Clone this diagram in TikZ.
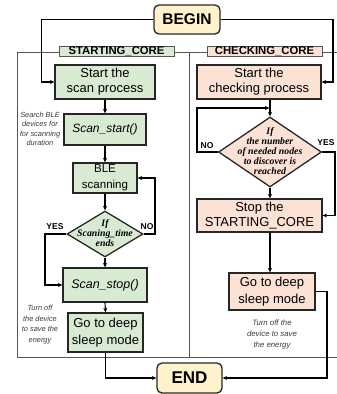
\documentclass[tikz,border=0pt]{standalone}
\usepackage{fontspec}
\setmainfont{Liberation Sans}
\newfontfamily\dfont{Liberation Serif}
\usetikzlibrary{shapes.geometric,arrows.meta}
\definecolor{gfill}{HTML}{D9EAD3}
\definecolor{pfill}{HTML}{FBE2D5}
\definecolor{yfill}{HTML}{FFF2CC}
\definecolor{framec}{HTML}{555555}
\definecolor{notec}{HTML}{3A3A3A}
\begin{document}
\begin{tikzpicture}[x=1pt,y=-1pt,
  box/.style={draw=black!85, line width=1.3pt, inner sep=0pt, align=center, font=\fontsize{13}{15}\selectfont},
  gbox/.style={box, fill=gfill},
  pbox/.style={box, fill=pfill},
  term/.style={draw=black!85, line width=1.3pt, rounded corners=5pt, fill=yfill, font=\bfseries\fontsize{15.5}{18}\selectfont, inner sep=0pt},
  dia/.style={draw=black!85, line width=1.3pt, diamond, inner sep=0pt},
  dtext/.style={font=\dfont\bfseries\itshape\fontsize{9.8}{10}\selectfont, align=center, inner sep=0pt},
  conn/.style={line width=1.1pt, -{Stealth[length=4.5pt,width=4pt]}},
  frame/.style={draw=framec, line width=0.9pt},
  tag/.style={draw=framec, line width=0.7pt, font=\bfseries\fontsize{11.3}{12}\selectfont, inner sep=0pt, minimum height=10pt, minimum width=115pt},
  note/.style={font=\itshape\fontsize{7.4}{9.3}\selectfont, text=notec, align=center, inner sep=0pt},
  yn/.style={font=\bfseries\fontsize{8.5}{10}\selectfont, inner sep=0pt}
]
\useasboundingbox (0,0) rectangle (337,394);
% frame
\draw[frame] (17,52) -- (17,357) -- (337,357);
\draw[frame] (189,52) -- (189,357);
\draw[frame] (17,52) -- (337,52);
\node[tag, fill=gfill] (tagS) at (116.5,51.5) {STARTING\_CORE};
\node[tag, fill=pfill] (tagC) at (264.5,51.5) {CHECKING\_CORE};
% terminals
\node[term, minimum width=66pt, minimum height=29pt] (begin) at (187,19.5) {BEGIN};
\node[term, minimum width=65pt, minimum height=30pt, font=\bfseries\fontsize{17}{19}\selectfont] (end) at (189.5,378) {END};
% left column
\node[gbox, minimum width=100pt, minimum height=34pt] (s1) at (105,82) {Start the\\scan process};
\node[gbox, minimum width=82pt, minimum height=31pt, font=\itshape\fontsize{12}{14}\selectfont] (s2) at (105,129.5) {Scan\_start()};
\node[gbox, minimum width=64pt, minimum height=30pt, font=\fontsize{11.5}{16}\selectfont] (s3) at (105,178) {BLE\\scanning};
\node[dia, fill=gfill, minimum width=76pt, minimum height=46pt] (s4) at (105,234) {};
\node[dtext] (s4t) at (105,233) {If\\Scaning\_time\\ends};
\node[gbox, minimum width=84pt, minimum height=34pt, font=\itshape\fontsize{12.5}{14}\selectfont] (s5) at (105,285) {Scan\_stop()};
\node[gbox, minimum width=75pt, minimum height=39pt, font=\fontsize{13}{16.5}\selectfont] (s6) at (105.5,332.5) {Go to deep\\sleep mode};
% right column
\node[pbox, minimum width=124pt, minimum height=34pt] (c1) at (259,82) {Start the\\checking process};
\node[dia, fill=pfill, minimum width=103pt, minimum height=70pt] (c2) at (270,152) {};
\node[dtext] (c2t) at (270,151) {If\\the number\\of needed nodes\\to discover is\\reached};
\node[pbox, minimum width=125pt, minimum height=33pt] (c3) at (259.5,215.5) {Stop the\\STARTING\_CORE};
\node[pbox, minimum width=86pt, minimum height=37pt, font=\fontsize{13}{16.5}\selectfont] (c4) at (272,291.5) {Go to deep\\sleep mode};
% notes
\node[note] (n1) at (40,129) {Search BLE\\devices for\\for scanning\\duration};
\node[note, font=\itshape\fontsize{7.4}{10.7}\selectfont] (n2) at (40,324.5) {Turn off\\the device\\to save the\\energy};
\node[note, font=\itshape\fontsize{7.8}{11}\selectfont] (n3) at (272,334) {Turn off the\\device to save\\the energy};
% labels
\node[yn] (no1) at (147,226.5) {NO};
\node[yn] (yes1) at (55,226.5) {YES};
\node[yn] (no2) at (207,146) {NO};
\node[yn] (yes2) at (326,143) {YES};
% connectors
\draw[conn] (begin.west) -- (41.7,19.5) |- (s1.west);
\draw[conn] (begin.east) -- (333,19.5) |- (c1.east);
\draw[conn] (s1.south) -- (s2.north);
\draw[conn] (s2.south) -- (s3.north);
\draw[conn] (s3.south) -- (s4.north);
\draw[conn] (s4.south) -- (s5.north);
\draw[conn] (s5.south) -- (s6.north);
\draw[conn] (s4.east) -- (155,234) |- (s3.east);
\draw[conn] (s4.west) -- (45,234) |- (s5.west);
\draw[conn] (s6.south) |- (end.west);
\coordinate (nojoin) at (269.4,108);
\draw[conn] (c1.south -| c2.north) -- (c2.north);
\draw[conn] (c2.west) -- (197,152) |- (nojoin);
\draw[conn] (c2.east) -- (335,152) |- (c3.east);
\draw[conn] (c2.south) -- (c2.south |- c3.north);
\draw[conn] (c3.south -| c2.south) -- (c4.north -| c2.south);
\draw[conn] (c4.east) -- (327,291.5) |- (end.east);
\end{tikzpicture}
\end{document}
